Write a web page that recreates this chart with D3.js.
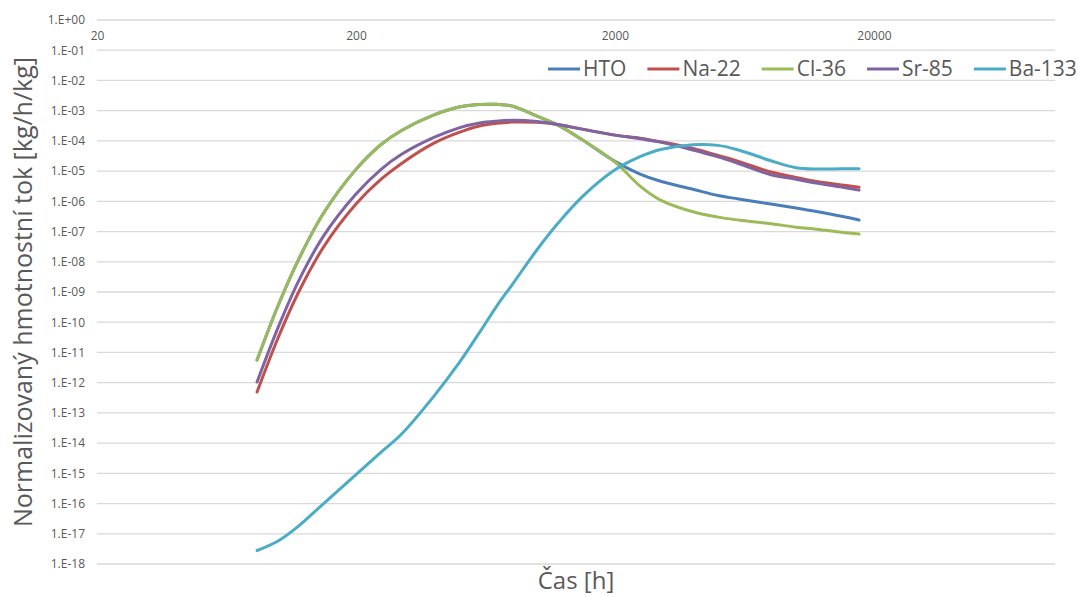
<!DOCTYPE html>
<html>
<head>
<meta charset="utf-8">
<script src="https://cdn.jsdelivr.net/npm/d3@7"></script>
<style>
  html, body { margin: 0; padding: 0; background: #ffffff; }
  svg { display: block; font-family: "Open Sans", "Noto Sans", sans-serif; }
</style>
</head>
<body>
<svg id="chart" width="1078" height="597"></svg>
<script>
// Time points [h]
const times = [83, 100, 120, 150, 200, 250, 300, 400, 500, 600, 700, 800, 1000, 1200, 1500,
               2000, 2500, 3000, 4000, 5000, 6000, 8000, 10000, 12000, 15000, 17520];

// Normalised mass flux [kg/h/kg] per nuclide
const hto   = [5.6e-12, 3.5e-10, 1.18e-8, 4.1e-7, 1.14e-5, 7.6e-5, 2.2e-4, 7.2e-4, 1.32e-3, 1.6e-3, 1.62e-3, 1.42e-3, 6.6e-4, 3.4e-4, 1.07e-4,
               2.1e-5, 8.0e-6, 4.6e-6, 2.5e-6, 1.55e-6, 1.2e-6, 8.1e-7, 6.0e-7, 4.6e-7, 3.2e-7, 2.4e-7];
const na22  = [4.9e-13, 3.0e-11, 9.8e-10, 3.1e-8, 8.1e-7, 5.4e-6, 1.8e-5, 8.4e-5, 1.9e-4, 3.1e-4, 3.8e-4, 4.2e-4, 4.1e-4, 3.5e-4, 2.45e-4,
               1.55e-4, 1.23e-4, 9.3e-5, 5.6e-5, 3.3e-5, 2.1e-5, 9.3e-6, 6.2e-6, 4.5e-6, 3.5e-6, 2.9e-6];
const cl36  = [5.6e-12, 3.5e-10, 1.18e-8, 4.1e-7, 1.14e-5, 7.6e-5, 2.2e-4, 7.2e-4, 1.32e-3, 1.6e-3, 1.62e-3, 1.42e-3, 6.6e-4, 3.4e-4, 1.07e-4,
               2.0e-5, 3.2e-6, 1.1e-6, 4.5e-7, 3.0e-7, 2.4e-7, 1.8e-7, 1.4e-7, 1.2e-7, 9.5e-8, 8.3e-8];
const sr85  = [1.05e-12, 6.6e-11, 2.3e-9, 7.2e-8, 1.74e-6, 1.15e-5, 3.6e-5, 1.3e-4, 2.7e-4, 3.9e-4, 4.5e-4, 4.8e-4, 4.4e-4, 3.5e-4, 2.4e-4,
               1.55e-4, 1.17e-4, 9.1e-5, 5.0e-5, 2.95e-5, 1.78e-5, 7.6e-6, 5.4e-6, 4.0e-6, 2.95e-6, 2.35e-6];
const ba133 = [2.8e-18, 5.8e-18, 1.8e-17, 1.0e-16, 9.1e-16, 5.0e-15, 2.0e-14, 3.6e-13, 4.5e-12, 4.6e-11, 3.5e-10, 1.7e-9, 2.5e-8, 1.8e-7, 1.45e-6,
               1.1e-5, 3.0e-5, 5.2e-5, 7.5e-5, 7.1e-5, 5.0e-5, 2.2e-5, 1.3e-5, 1.17e-5, 1.2e-5, 1.2e-5];

const seriesNames  = ["HTO", "Na-22", "Cl-36", "Sr-85", "Ba-133"];
const seriesValues = [hto, na22, cl36, sr85, ba133];
const seriesColors = ["#4A7EBB", "#C0504D", "#9BBB59", "#8064A2", "#4BACC6"];

// Axis ticks
const xTicks = [20, 200, 2000, 20000];
const yExponents = d3.range(0, -19, -1);

const svg = d3.select("#chart");
const plotLeft = 97, plotRight = 1055, plotTop = 20, plotBottom = 564;

const x = d3.scaleLog().domain([20, 100000]).range([plotLeft, plotRight]);
const y = d3.scaleLog().domain([1e-18, 1]).range([plotBottom, plotTop]);

const textColor = "#595959";
const gridColor = "#D9D9D9";

// Horizontal gridlines
svg.append("g")
  .selectAll("line")
  .data(yExponents)
  .join("line")
  .attr("x1", plotLeft).attr("x2", plotRight)
  .attr("y1", e => y(Math.pow(10, e))).attr("y2", e => y(Math.pow(10, e)))
  .attr("stroke", gridColor).attr("stroke-width", 1.3);

// Y axis labels (scientific notation)
const fmtExp = e => "1.E" + (e >= 0 ? "+" : "-") + String(Math.abs(e)).padStart(2, "0");
const yAxis = d3.axisLeft(y)
  .tickValues(yExponents.map(e => Math.pow(10, e)))
  .tickFormat(v => fmtExp(Math.round(Math.log10(v))))
  .tickSize(0).tickPadding(12);
const gy = svg.append("g").attr("transform", `translate(${plotLeft},0)`).call(yAxis);
gy.select(".domain").remove();
gy.selectAll("text").attr("fill", textColor).style("font-size", "12px")
  .style("font-family", "'Open Sans', sans-serif");

// X axis labels, drawn along the top gridline
const xAxis = d3.axisBottom(x).tickValues(xTicks).tickFormat(d3.format("d"))
  .tickSize(0).tickPadding(11);
const gx = svg.append("g").attr("transform", `translate(0,${plotTop})`).call(xAxis);
gx.select(".domain").remove();
gx.selectAll("text").attr("fill", textColor).style("font-size", "12px")
  .style("font-family", "'Open Sans', sans-serif");

// Smoothed series lines
const line = d3.line()
  .x(d => x(d[0]))
  .y(d => y(d[1]))
  .curve(d3.curveCatmullRom.alpha(0.5));

svg.append("g")
  .selectAll("path")
  .data(seriesValues)
  .join("path")
  .attr("d", vals => line(times.map((t, i) => [t, vals[i]])))
  .attr("fill", "none")
  .attr("stroke", (d, i) => seriesColors[i])
  .attr("stroke-width", 3)
  .attr("stroke-linecap", "round")
  .attr("stroke-linejoin", "round");

// Legend
const legend = svg.append("g").attr("transform", "translate(548,69)");
let cx = 0;
seriesNames.forEach((name, i) => {
  const g = legend.append("g").attr("transform", `translate(${cx},0)`);
  g.append("line").attr("x1", 0).attr("x2", 32).attr("y1", 0).attr("y2", 0)
    .attr("stroke", seriesColors[i]).attr("stroke-width", 3);
  const t = g.append("text").attr("x", 35).attr("y", 0).attr("dy", "0.35em")
    .attr("fill", textColor).style("font-size", "21px").text(name);
  cx += 35 + t.node().getComputedTextLength() + 21;
});

// Axis titles
svg.append("text")
  .attr("transform", "translate(32,292) rotate(-90)")
  .attr("text-anchor", "middle")
  .attr("fill", textColor).style("font-size", "25px")
  .text("Normalizovaný hmotnostní tok [kg/h/kg]");

svg.append("text")
  .attr("x", 576).attr("y", 589)
  .attr("text-anchor", "middle")
  .attr("fill", textColor).style("font-size", "24px")
  .text("Čas [h]");
</script>
</body>
</html>
